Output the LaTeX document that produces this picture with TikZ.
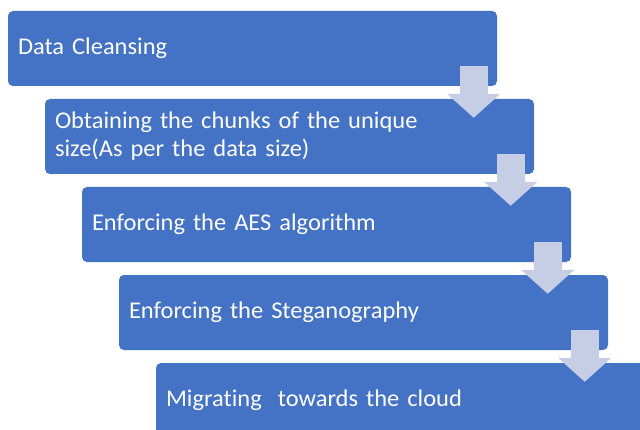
\documentclass[tikz,border=0pt]{standalone}
\usepackage{fontspec}
\setmainfont[Ligatures={NoCommon},FakeStretch=1.02]{Carlito}
\usetikzlibrary{calc,arrows.meta}
\definecolor{boxblue}{RGB}{68,114,196}
\definecolor{arrowtint}{RGB}{198,206,230}
\tikzset{
  stepbox/.style={fill=boxblue, rounded corners=5pt, minimum width=489pt, minimum height=75pt,
    inner xsep=10pt, inner ysep=0pt, text width=469pt, align=left, text=white,
    font=\fontsize{24}{28}\selectfont},
  flowarrow/.style={draw=arrowtint, line width=28pt,
    -{Triangle[width=52pt,length=24pt,fill=arrowtint]}}
}
\begin{document}
\begin{tikzpicture}[x=1pt,y=1pt]
\clip (0,0) rectangle (640,429);
\fill[white] (0,0) rectangle (640,429);
\node[stepbox] (b1) at (252.5,380.5) {Data Cleansing};
\node[stepbox] (b2) at (289.5,292.5) {Obtaining the chunks of the unique\\size(As per the data size)};
\node[stepbox] (b3) at (326.5,204.5) {Enforcing the AES algorithm};
\node[stepbox] (b4) at (363.5,116.5) {Enforcing the Steganography};
\node[stepbox] (b5) at (400.5,28.5) {Migrating~ towards the cloud};
\foreach \a/\b in {b1/b2,b2/b3,b3/b4,b4/b5}{
  \draw[flowarrow] ($(\a.south east)+(-23.5,20)$) -- ($(\b.north -| \a.south east)+(-23.5,-19)$);
}
\end{tikzpicture}
\end{document}
